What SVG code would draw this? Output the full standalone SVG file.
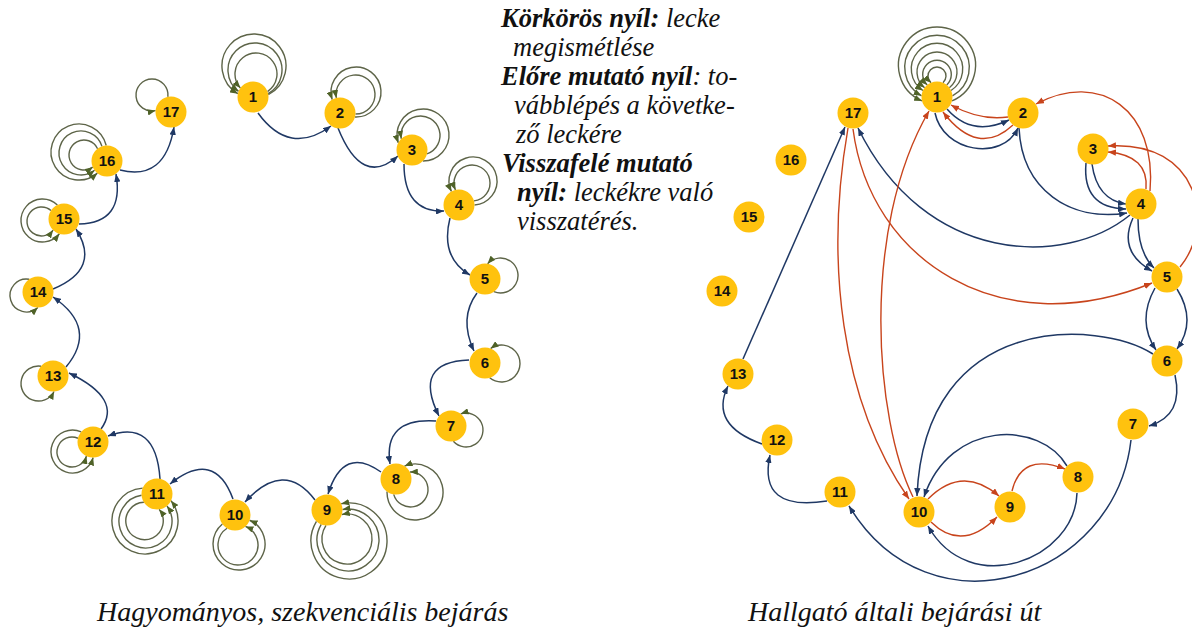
<svg xmlns="http://www.w3.org/2000/svg" width="1192" height="632" viewBox="0 0 1192 632">
<style>
.nv{fill:none;stroke:#1f3864;stroke-width:1.5;marker-end:url(#an)}
.rd{fill:none;stroke:#c8441c;stroke-width:1.4;marker-end:url(#ar)}
.lp{fill:none;stroke:#5d6448;stroke-width:1.4;marker-end:url(#ag)}
.nd circle{fill:#ffc20e}
.nd text{font-family:"Liberation Sans",Arial,sans-serif;font-weight:bold;font-size:15px;text-anchor:middle;fill:#111}
.lg{font-family:"Liberation Serif","Times New Roman",serif;font-style:italic;font-size:26.5px;fill:#111}
.b{font-weight:bold}
.cap{font-family:"Liberation Serif","Times New Roman",serif;font-style:italic;font-size:28px;fill:#111}
</style>
<defs>
<marker id="an" viewBox="0 0 10 8" refX="10" refY="4" markerWidth="8" markerHeight="6.4" markerUnits="userSpaceOnUse" orient="auto"><path d="M0,0 L10,4 L0,8 z" fill="#1f3864"/></marker>
<marker id="ar" viewBox="0 0 10 8" refX="10" refY="4" markerWidth="8" markerHeight="6.4" markerUnits="userSpaceOnUse" orient="auto"><path d="M0,0 L10,4 L0,8 z" fill="#c8441c"/></marker>
<marker id="ag" viewBox="0 0 10 8" refX="10" refY="4" markerWidth="8" markerHeight="6.4" markerUnits="userSpaceOnUse" orient="auto"><path d="M0,0 L10,4 L0,8 z" fill="#4f6228"/></marker>
</defs>

<!-- legend -->
<g id="legend">
<text class="lg" x="501" y="27"><tspan class="b">Körkörös nyíl:</tspan> lecke</text>
<text class="lg" x="513" y="56">megismétlése</text>
<text class="lg" x="501" y="85"><tspan class="b">Előre mutató nyíl</tspan>: to-</text>
<text class="lg" x="514" y="114">vábblépés a követke-</text>
<text class="lg" x="516" y="143">ző leckére</text>
<text class="lg" x="502" y="172"><tspan class="b">Visszafelé mutató</tspan></text>
<text class="lg" x="517" y="201"><tspan class="b">nyíl:</tspan> leckékre való</text>
<text class="lg" x="517" y="230">visszatérés.</text>
</g>

<!-- left graph: self loops -->
<g id="left-loops">
<g transform="translate(253,97)">
<path class="lp" transform="rotate(-88.2)" d="M2.86,15.23 A32,32 0 1,0 2.86,-15.23"/>
<path class="lp" transform="rotate(-85.8)" d="M4.51,14.83 A27,27 0 1,0 4.51,-14.83"/>
<path class="lp" transform="rotate(-82.6)" d="M7.27,13.69 A21,21 0 1,0 7.27,-13.69"/>
</g>
<g transform="translate(340,113)">
<path class="lp" transform="rotate(-52.7)" d="M5.91,14.33 A25,25 0 1,0 5.91,-14.33"/>
<path class="lp" transform="rotate(-50)" d="M9.17,12.5 A19.5,19.5 0 1,0 9.17,-12.5"/>
</g>
<g transform="translate(412,150)">
<path class="lp" transform="rotate(-53.7)" d="M-2.41,15.31 A26,26 0 1,0 -2.41,-15.31"/>
<path class="lp" transform="rotate(-59.6)" d="M4.24,14.91 A19.5,19.5 0 1,0 4.24,-14.91"/>
</g>
<g transform="translate(459,205)">
<path class="lp" transform="rotate(-59.7)" d="M7.86,13.36 A24,24 0 1,0 7.86,-13.36"/>
<path class="lp" transform="rotate(-59.4)" d="M11.14,10.78 A18,18 0 1,0 11.14,-10.78"/>
</g>
<path class="lp" transform="translate(485,279) rotate(-12.7)" d="M5.87,14.35 A17.5,17.5 0 1,0 5.87,-14.35"/>
<path class="lp" transform="translate(485,363) rotate(1.7)" d="M5.16,14.62 A18.5,18.5 0 1,0 5.16,-14.62"/>
<path class="lp" transform="translate(451,426) rotate(14.9)" d="M6.19,14.21 A17,17 0 1,0 6.19,-14.21"/>
<g transform="translate(396,479)">
<path class="lp" transform="rotate(34.4)" d="M-0.3,15.5 A28,28 0 1,0 -0.3,-15.5"/>
<path class="lp" transform="rotate(35.9)" d="M7.11,13.77 A17.5,17.5 0 1,0 7.11,-13.77"/>
</g>
<g transform="translate(327,510)">
<path class="lp" transform="rotate(54.6)" d="M3.17,15.17 A38,38 0 1,0 3.17,-15.17"/>
<path class="lp" transform="rotate(55)" d="M8.47,12.98 A31,31 0 1,0 8.47,-12.98"/>
<path class="lp" transform="rotate(55.4)" d="M12.15,9.62 A25,25 0 1,0 12.15,-9.62"/>
</g>
<g transform="translate(235,515)">
<path class="lp" transform="rotate(82.1)" d="M7.2,13.73 A26,26 0 1,0 7.2,-13.73"/>
<path class="lp" transform="rotate(84.3)" d="M12.43,9.26 A20,20 0 1,0 12.43,-9.26"/>
</g>
<g transform="translate(157,494)">
<path class="lp" transform="rotate(114)" d="M0.41,15.49 A33,33 0 1,0 0.41,-15.49"/>
<path class="lp" transform="rotate(112.7)" d="M7.15,13.75 A26.5,26.5 0 1,0 7.15,-13.75"/>
<path class="lp" transform="rotate(114.8)" d="M13.03,8.39 A18.7,18.7 0 1,0 13.03,-8.39"/>
</g>
<g transform="translate(93,442)">
<path class="lp" transform="rotate(155.1)" d="M6.38,14.13 A21.5,21.5 0 1,0 6.38,-14.13"/>
<path class="lp" transform="rotate(154.5)" d="M11.96,9.86 A15,15 0 1,0 11.96,-9.86"/>
</g>
<path class="lp" transform="translate(53,376) rotate(152.6)" d="M6.14,14.23 A17.5,17.5 0 1,0 6.14,-14.23"/>
<path class="lp" transform="translate(38,292) rotate(163.1)" d="M4.68,14.78 A16.5,16.5 0 1,0 4.68,-14.78"/>
<g transform="translate(64,219)">
<path class="lp" transform="rotate(176)" d="M5.63,14.44 A21.5,21.5 0 1,0 5.63,-14.44"/>
<path class="lp" transform="rotate(173.7)" d="M11.98,9.84 A14.5,14.5 0 1,0 11.98,-9.84"/>
</g>
<g transform="translate(107,161)">
<path class="lp" transform="rotate(-162.2)" d="M5.46,14.51 A28,28 0 1,0 5.46,-14.51"/>
<path class="lp" transform="rotate(-162.9)" d="M9.12,12.53 A22,22 0 1,0 9.12,-12.53"/>
<path class="lp" transform="rotate(-165.4)" d="M12.21,9.55 A15,15 0 1,0 12.21,-9.55"/>
</g>
<path class="lp" transform="translate(171,112) rotate(-138.2)" d="M12.44,9.25 A16,16 0 1,0 12.44,-9.25"/>
</g>

<!-- left graph: connectors -->
<g id="left-edges">
<path class="nv" d="M258,113 Q289.5,156.5 331,126"/>
<path class="nv" d="M338,128 Q362,188 398,156"/>
<path class="nv" d="M404,164 Q404,212.5 444,211"/>
<path class="nv" d="M450,218 Q440,257.5 470,275"/>
<path class="nv" d="M477,293 Q458.5,318 474,351"/>
<path class="nv" d="M469,360 Q412,362 439,416"/>
<path class="nv" d="M436,421 Q383,417.5 390,464"/>
<path class="nv" d="M381,472 Q343.5,445 328,494"/>
<path class="nv" d="M315,500 Q284,459 245,502"/>
<path class="nv" d="M233,499 Q214.5,448.5 170,484"/>
<path class="nv" d="M160,479 Q156,418.5 108,436"/>
<path class="nv" d="M101,429 Q123,399 69,373"/>
<path class="nv" d="M66,367 Q98.5,328 53,297"/>
<path class="nv" d="M53,289 Q101.5,269 76,229"/>
<path class="nv" d="M79,224 Q124.5,223 116,174"/>
<path class="nv" d="M120,170 Q165,181.5 174,127"/>
</g>

<!-- left graph: nodes -->
<g id="L1" class="nd"><circle cx="253" cy="97" r="15.5"/><text x="253" y="102">1</text></g>
<g id="L2" class="nd"><circle cx="340" cy="113" r="15.5"/><text x="340" y="118">2</text></g>
<g id="L3" class="nd"><circle cx="412" cy="150" r="15.5"/><text x="412" y="155">3</text></g>
<g id="L4" class="nd"><circle cx="459" cy="205" r="15.5"/><text x="459" y="210">4</text></g>
<g id="L5" class="nd"><circle cx="485" cy="279" r="15.5"/><text x="485" y="284">5</text></g>
<g id="L6" class="nd"><circle cx="485" cy="363" r="15.5"/><text x="485" y="368">6</text></g>
<g id="L7" class="nd"><circle cx="451" cy="426" r="15.5"/><text x="451" y="431">7</text></g>
<g id="L8" class="nd"><circle cx="396" cy="479" r="15.5"/><text x="396" y="484">8</text></g>
<g id="L9" class="nd"><circle cx="327" cy="510" r="15.5"/><text x="327" y="515">9</text></g>
<g id="L10" class="nd"><circle cx="235" cy="515" r="15.5"/><text x="235" y="520">10</text></g>
<g id="L11" class="nd"><circle cx="157" cy="494" r="15.5"/><text x="157" y="499">11</text></g>
<g id="L12" class="nd"><circle cx="93" cy="442" r="15.5"/><text x="93" y="447">12</text></g>
<g id="L13" class="nd"><circle cx="53" cy="376" r="15.5"/><text x="53" y="381">13</text></g>
<g id="L14" class="nd"><circle cx="38" cy="292" r="15.5"/><text x="38" y="297">14</text></g>
<g id="L15" class="nd"><circle cx="64" cy="219" r="15.5"/><text x="64" y="224">15</text></g>
<g id="L16" class="nd"><circle cx="107" cy="161" r="15.5"/><text x="107" y="166">16</text></g>
<g id="L17" class="nd"><circle cx="171" cy="112" r="15.5"/><text x="171" y="117">17</text></g>

<!-- right graph: self loops on 1 -->
<g id="right-loops" transform="translate(937,97) rotate(-90)">
<path class="lp" d="M-3.96,14.98 A38.5,38.5 0 1,0 -3.96,-14.98"/>
<path class="lp" d="M1.14,15.46 A32.3,32.3 0 1,0 1.14,-15.46"/>
<path class="lp" d="M6.5,14.07 A25.7,25.7 0 1,0 6.5,-14.07"/>
<path class="lp" d="M9.3,12.4 A20,20 0 1,0 9.3,-12.4"/>
<path class="lp" d="M12.04,9.76 A14.3,14.3 0 1,0 12.04,-9.76"/>
<path class="lp" d="M14.29,6 A9,9 0 1,0 14.29,-6"/>
</g>

<!-- right graph: connectors -->
<g id="right-edges">
<path class="rd" d="M1008,117 Q980.5,121 951,105"/>
<path class="nv" d="M947,109 Q972,137.5 1009,120"/>
<path class="rd" d="M1013,125 Q978,157.5 943,112"/>
<path class="nv" d="M935,113 C943,152 1002,162 1018,128"/>
<path class="rd" d="M1150,191 C1157,110 1100,70 1036,104"/>
<path class="nv" d="M1019,128 C1022,190 1070,222 1127,213"/>
<path class="nv" d="M1086,163 Q1082,208 1126,209"/>
<path class="nv" d="M1092,164 Q1097,200 1126,204"/>
<path class="rd" d="M1146,189 Q1149,155.5 1108,152"/>
<path class="rd" d="M1180,267 C1215,225 1200,140 1108,146"/>
<path class="nv" d="M1133,218 Q1117.5,251.5 1152,271"/>
<path class="nv" d="M1138,219 Q1138,252.5 1154,268"/>
<path class="nv" d="M1130,215 C1065,268 925,265 858,128"/>
<path class="rd" d="M853,129 C870,260 1000,345 1152,283"/>
<path class="nv" d="M743,359 L845,127"/>
<path class="rd" d="M848,128 C825,260 840,400 909,499"/>
<path class="rd" d="M913,497 C875,420 860,230 929,111"/>
<path class="nv" d="M1153,354 C1100,320 925,310 917,496"/>
<path class="nv" d="M1067,466 C1040,420 950,420 924,497"/>
<path class="rd" d="M928,499 Q962.5,464.5 999,496"/>
<path class="rd" d="M1012,491 Q1021.5,452 1065,469"/>
<path class="rd" d="M931,522 Q962,552.5 997,517"/>
<path class="nv" d="M1077,493 C1075,560 970,600 928,526"/>
<path class="nv" d="M1131,440 C1115,580 930,640 849,506"/>
<path class="nv" d="M1175,375 Q1184,415.5 1149,426"/>
<path class="nv" d="M1155,288 Q1136.5,321 1156,350"/>
<path class="nv" d="M1177,289 Q1197,321 1177,349"/>
<path class="nv" d="M827,501 Q757.5,512 770,455"/>
<path class="nv" d="M762,444 Q709,425 728,386"/>
</g>

<!-- right graph: nodes -->
<g id="R1" class="nd"><circle cx="937" cy="97" r="15.5"/><text x="937" y="102">1</text></g>
<g id="R2" class="nd"><circle cx="1023" cy="113" r="15.5"/><text x="1023" y="118">2</text></g>
<g id="R3" class="nd"><circle cx="1093" cy="149" r="15.5"/><text x="1093" y="154">3</text></g>
<g id="R4" class="nd"><circle cx="1141" cy="204" r="15.5"/><text x="1141" y="209">4</text></g>
<g id="R5" class="nd"><circle cx="1167" cy="277" r="15.5"/><text x="1167" y="282">5</text></g>
<g id="R6" class="nd"><circle cx="1167" cy="361" r="15.5"/><text x="1167" y="366">6</text></g>
<g id="R7" class="nd"><circle cx="1133" cy="424" r="15.5"/><text x="1133" y="429">7</text></g>
<g id="R8" class="nd"><circle cx="1078" cy="477" r="15.5"/><text x="1078" y="482">8</text></g>
<g id="R9" class="nd"><circle cx="1010" cy="507" r="15.5"/><text x="1010" y="512">9</text></g>
<g id="R10" class="nd"><circle cx="919" cy="512" r="15.5"/><text x="919" y="517">10</text></g>
<g id="R11" class="nd"><circle cx="840" cy="492" r="15.5"/><text x="840" y="497">11</text></g>
<g id="R12" class="nd"><circle cx="777" cy="440" r="15.5"/><text x="777" y="445">12</text></g>
<g id="R13" class="nd"><circle cx="738" cy="374" r="15.5"/><text x="738" y="379">13</text></g>
<g id="R14" class="nd"><circle cx="722" cy="291" r="15.5"/><text x="722" y="296">14</text></g>
<g id="R15" class="nd"><circle cx="749" cy="217" r="15.5"/><text x="749" y="222">15</text></g>
<g id="R16" class="nd"><circle cx="791" cy="160" r="15.5"/><text x="791" y="165">16</text></g>
<g id="R17" class="nd"><circle cx="853" cy="113" r="15.5"/><text x="853" y="118">17</text></g>

<!-- captions -->
<text class="cap" x="97" y="621">Hagyományos, szekvenciális bejárás</text>
<text class="cap" x="748" y="621">Hallgató általi bejárási út</text>
</svg>
